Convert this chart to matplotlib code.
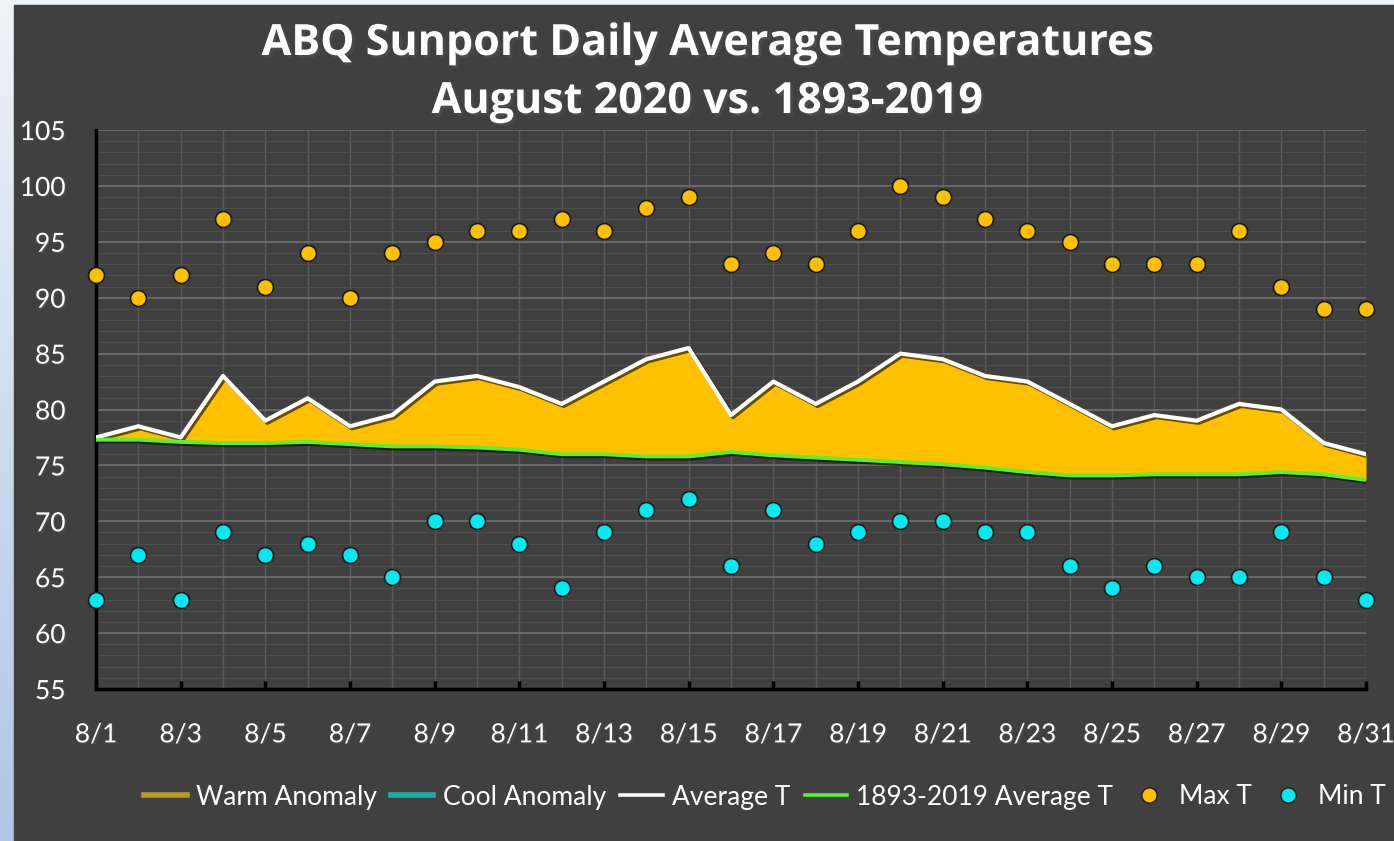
import matplotlib
matplotlib.use("Agg")
import matplotlib.pyplot as plt
import matplotlib.patheffects as pe
from matplotlib.lines import Line2D
from matplotlib.patches import Rectangle
from matplotlib.ticker import MultipleLocator
import numpy as np

days = list(range(1, 32))
day_labels = [f"8/{d}" for d in days]

max_t = [92, 90, 92, 97, 91, 94, 90, 94, 95, 96, 96, 97, 96, 98, 99, 93,
         94, 93, 96, 100, 99, 97, 96, 95, 93, 93, 93, 96, 91, 89, 89]
min_t = [63, 67, 63, 69, 67, 68, 67, 65, 70, 70, 68, 64, 69, 71, 72, 66,
         71, 68, 69, 70, 70, 69, 69, 66, 64, 66, 65, 65, 69, 65, 63]
avg_t = [77.5, 78.5, 77.5, 83, 79, 81, 78.5, 79.5, 82.5, 83, 82, 80.5, 82.5,
         84.5, 85.5, 79.5, 82.5, 80.5, 82.5, 85, 84.5, 83, 82.5, 80.5, 78.5,
         79.5, 79, 80.5, 80, 77, 76]
normal_t = [77.3, 77.3, 77.1, 77.0, 77.0, 77.1, 76.9, 76.7, 76.7, 76.6, 76.4,
            76.0, 76.0, 75.8, 75.8, 76.2, 75.9, 75.7, 75.5, 75.3, 75.1, 74.8,
            74.4, 74.1, 74.1, 74.2, 74.2, 74.2, 74.4, 74.2, 73.7]

PANEL = "#404040"
FONT = "Lato"

fig = plt.figure(figsize=(13.94, 8.41), dpi=100)

# light blue gradient behind the dark panel
bg = fig.add_axes([0, 0, 1, 1], zorder=-10)
grad = np.linspace(0, 1, 256).reshape(-1, 1)
bg.imshow(grad, aspect="auto", extent=[0, 1, 0, 1],
          cmap=matplotlib.colors.LinearSegmentedColormap.from_list(
              "bgc", ["#aec6e4", "#eef3f9"]), origin="lower")
bg.add_patch(Rectangle((14 / 1394, 0), 1, 1 - 5 / 841, color=PANEL))
bg.set_xlim(0, 1)
bg.set_ylim(0, 1)
bg.axis("off")

ax = fig.add_axes([96 / 1394, 1 - 689 / 841, 1270 / 1394, 559 / 841])
ax.set_facecolor(PANEL)

x = np.array(days)
avg = np.array(avg_t)
nrm = np.array(normal_t)

ax.fill_between(x, nrm, avg, where=avg >= nrm, interpolate=True,
                color="#ffc000", lw=0, zorder=2)

shadow = [pe.SimpleLineShadow(offset=(1.5, -1.5), alpha=0.6), pe.Normal()]
ax.plot(x, avg, color="white", lw=3, zorder=3, path_effects=shadow)
ax.plot(x, nrm, color="#5cf02e", lw=2.8, zorder=3, path_effects=shadow)

ax.plot(x, max_t, "o", ms=11.5, mfc="#ffc000", mec="#1a1a1a", mew=1.2,
        zorder=4, clip_on=False)
ax.plot(x, min_t, "o", ms=11.5, mfc="#00eaf2", mec="#1a1a1a", mew=1.2,
        zorder=4, clip_on=False)

ax.set_xlim(1, 31)
ax.set_ylim(55, 105)

ax.yaxis.set_major_locator(MultipleLocator(5))
ax.yaxis.set_minor_locator(MultipleLocator(1))
ax.set_xticks(days[::2])
ax.set_xticklabels(day_labels[::2])
ax.set_xticks(days, minor=True)

ax.grid(which="major", axis="y", color="#707070", lw=1.2, zorder=0)
ax.grid(which="minor", axis="y", color="#4e4e4e", lw=0.8, zorder=0)
ax.grid(which="both", axis="x", color="#5a5a5a", lw=1.0, zorder=0)
ax.set_axisbelow(True)

for s in ["top", "right"]:
    ax.spines[s].set_visible(False)
for s in ["left", "bottom"]:
    ax.spines[s].set_color("black")
    ax.spines[s].set_linewidth(2.5)

ax.tick_params(axis="x", which="major", direction="in", length=6, width=2.5,
               color="black", labelcolor="white", labelsize=19, pad=24)
ax.tick_params(axis="x", which="minor", length=0)
ax.tick_params(axis="y", which="both", length=0, labelcolor="white",
               labelsize=19, pad=22)
for lab in ax.get_xticklabels() + ax.get_yticklabels():
    lab.set_fontfamily(FONT)
    lab.set_path_effects([pe.withSimplePatchShadow(offset=(1.2, -1.2), alpha=0.7)])

title_lines = ["ABQ Sunport Daily Average Temperatures", "August 2020 vs. 1893-2019"]
for line, ypix in zip(title_lines, [55, 113]):
    fig.text(707 / 1394, 1 - ypix / 841, line,
             ha="center", va="baseline", color="white", fontsize=31,
             fontweight="bold", fontfamily="Open Sans",
             path_effects=[pe.withSimplePatchShadow(offset=(2, -2), alpha=0.7)])

handles = [
    Line2D([], [], color="#c9a227", lw=4, alpha=0.9),
    Line2D([], [], color="#1fb5b5", lw=4, alpha=0.9),
    Line2D([], [], color="white", lw=2.6),
    Line2D([], [], color="#5cf02e", lw=2.6),
    Line2D([], [], ls="none", marker="o", ms=11, mfc="#ffc000", mec="#1a1a1a"),
    Line2D([], [], ls="none", marker="o", ms=11, mfc="#00eaf2", mec="#1a1a1a"),
]
labels = ["Warm Anomaly", "Cool Anomaly", "Average T", "1893-2019 Average T",
          "Max T", "Min T"]
leg = fig.legend(handles, labels, loc="center", ncol=6,
                 bbox_to_anchor=(765 / 1394, 1 - 797 / 841), frameon=False,
                 prop={"family": FONT, "size": 19}, handlelength=1.6,
                 handletextpad=0.35, columnspacing=0.55, labelcolor="white")

fig.savefig("out.png", dpi=100, facecolor=fig.get_facecolor())
